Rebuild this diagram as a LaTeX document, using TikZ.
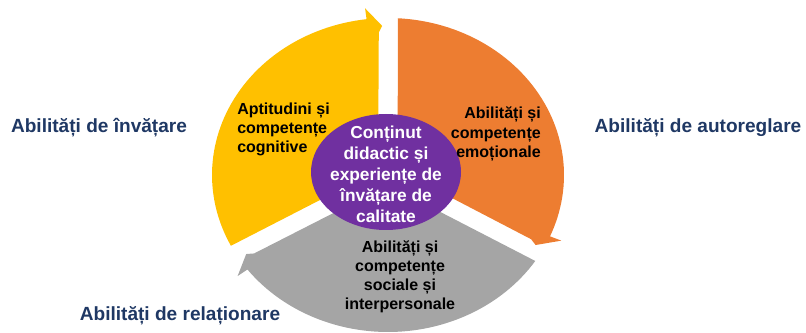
\documentclass[tikz,border=0pt]{standalone}
\usepackage{fontspec}
\setmainfont{Liberation Sans}
\definecolor{navy}{HTML}{1F3864}
\definecolor{cogyellow}{HTML}{FFC000}
\definecolor{emoorange}{HTML}{ED7D31}
\definecolor{socgray}{HTML}{A5A5A5}
\definecolor{hubpurple}{HTML}{7030A0}
\begin{document}
\begin{tikzpicture}[x=0.75pt, y=0.75pt,
  skill/.style={text=navy, font=\fontsize{14.3}{17}\selectfont\bfseries, inner sep=0pt},
  sector/.style={text=black, font=\fontsize{12}{14.3}\selectfont\bfseries, inner sep=0pt},
  hubtext/.style={text=white, align=center, font=\fontsize{13}{15.8}\selectfont\bfseries, inner sep=0pt}]
\useasboundingbox (0,0) rectangle (806,332);
\clip (0,0) rectangle (806,332);
%% the three arrow sectors
\begin{scope}[shift={(388,157)}, xscale=176, yscale=157]
  \fill[cogyellow] (199.4:0.3) -- (206.8:1) -- plot[domain=206.8:97, samples=60] (\x:1)
    -- (97:1.07) -- (92:0.95) -- (93.3:0.91) -- (100.6:0.3) -- cycle;
  \fill[emoorange] (79.4:0.3) -- (86.8:1) -- plot[domain=86.8:-23, samples=60] (\x:1)
    -- (-23:1.07) -- (-28:0.95) -- (-26.7:0.91) -- (-19.4:0.3) -- cycle;
  \fill[socgray] (319.4:0.3) -- (326.8:1) -- plot[domain=326.8:217, samples=60] (\x:1)
    -- (217:1.07) -- (212:0.95) -- (213.3:0.91) -- (220.6:0.3) -- cycle;
\end{scope}
%% centre
\fill[hubpurple] (386,160) ellipse [x radius=56.25pt, y radius=43.5pt];
\node[hubtext] (hub) at (386,158) {Conținut\\didactic și\\experiențe de\\învățare de\\calitate};
%% texts in the sectors
\node[sector, anchor=west, align=left] (cognitive) at (237,203) {Aptitudini și\\competențe\\cognitive};
\node[sector, anchor=east, align=right] (emotional) at (541,198) {Abilități și\\competențe\\emoționale};
\node[sector, align=center] (social) at (400,55) {Abilități și\\competențe\\sociale și\\interpersonale};
%% outer labels
\node[skill] (learning) at (99,204) {Abilități de învățare};
\node[skill] (selfreg) at (698,204) {Abilități de autoreglare};
\node[skill] (relating) at (180,16) {Abilități de relaționare};
\end{tikzpicture}
\end{document}
